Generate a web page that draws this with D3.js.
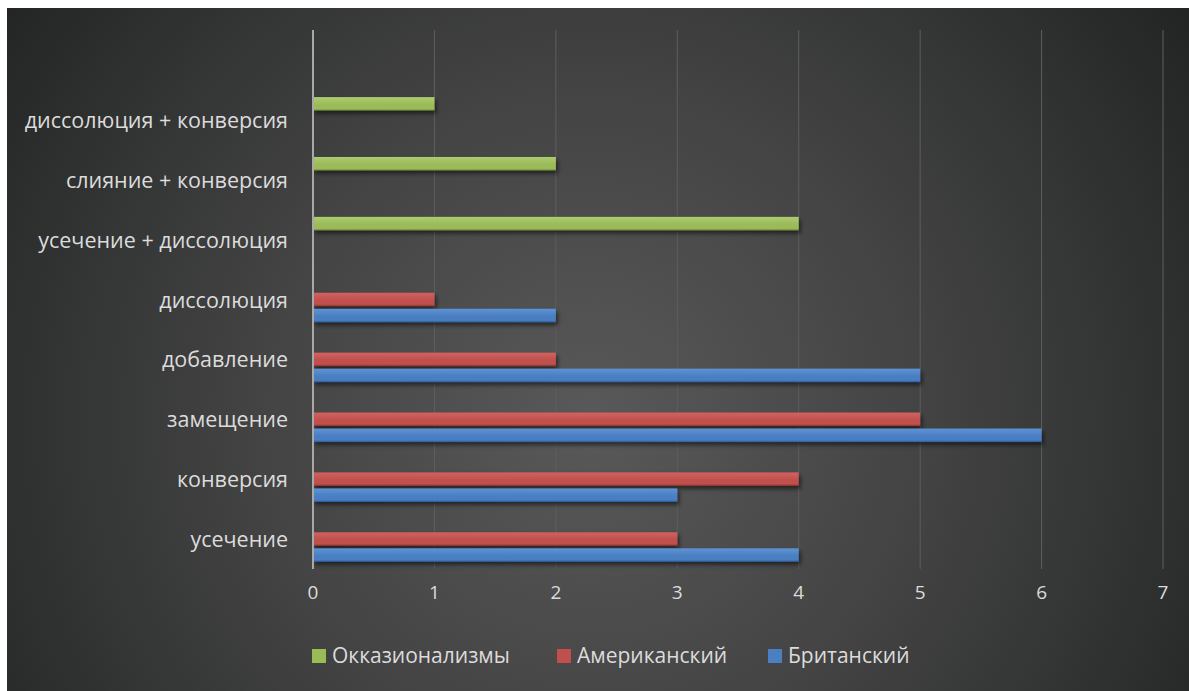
<!DOCTYPE html>
<html><head><meta charset="utf-8">
<script src="https://cdn.jsdelivr.net/npm/d3@7"></script>
<style>html,body{margin:0;padding:0;background:#fff;}svg{display:block;}</style>
</head><body>
<svg id="c" width="1189" height="691"></svg>
<script>
const categories = ["усечение","конверсия","замещение","добавление","диссолюция","усечение + диссолюция","слияние + конверсия","диссолюция + конверсия",""];
const seriesNames = ["Окказионализмы","Американский","Британский"];
const british = [4,3,6,5,2,0,0,0,0];
const american = [3,4,5,2,1,0,0,0,0];
const occasional = [0,0,0,0,0,4,2,1,0];
const xTicks = [0,1,2,3,4,5,6,7];
const colors = {"Окказионализмы":["#adcc70","#9bbb59","#6e8a38"],"Американский":["#d2625f","#c0504d","#8c322f"],"Британский":["#5e93d4","#4a7fc2","#2d5d9a"]};
const values = {"Окказионализмы":occasional,"Американский":american,"Британский":british};

const svg = d3.select("#c");
const defs = svg.append("defs");
const rg = defs.append("radialGradient").attr("id","bg").attr("gradientUnits","userSpaceOnUse")
  .attr("cx",590).attr("cy",420).attr("r",720);
rg.append("stop").attr("offset","0%").attr("stop-color","#595959");
rg.append("stop").attr("offset","45%").attr("stop-color","#444");
rg.append("stop").attr("offset","100%").attr("stop-color","#232525");
const f = defs.append("filter").attr("id","sh").attr("x","-5%").attr("y","-50%").attr("width","110%").attr("height","220%");
f.append("feDropShadow").attr("dx",2).attr("dy",3).attr("stdDeviation",2).attr("flood-color","#000").attr("flood-opacity",0.55);
seriesNames.forEach((s,i)=>{
  const lg = defs.append("linearGradient").attr("id","g"+i).attr("x1",0).attr("y1",0).attr("x2",0).attr("y2",1);
  lg.append("stop").attr("offset","0%").attr("stop-color",colors[s][0]);
  lg.append("stop").attr("offset","55%").attr("stop-color",colors[s][1]);
  lg.append("stop").attr("offset","85%").attr("stop-color",colors[s][1]);
  lg.append("stop").attr("offset","100%").attr("stop-color",colors[s][2]);
});

svg.append("rect").attr("x",7).attr("y",8).attr("width",1182).attr("height",683).attr("fill","url(#bg)");

const x = d3.scaleLinear().domain([0,7]).range([313,1163]);
const y = d3.scaleBand().domain(categories.slice().reverse()).range([30,569]).paddingInner(0).paddingOuter(0);
const ys = d3.scaleBand().domain(seriesNames).range([0,y.bandwidth()]).paddingInner(0).paddingOuter(0.372);
const barH = ys.step()-2.5;

// gridlines
svg.append("g").selectAll("line").data(xTicks.filter(d=>d>0)).join("line")
  .attr("x1",d=>x(d)).attr("x2",d=>x(d)).attr("y1",30).attr("y2",569)
  .attr("stroke","#5e5e5e").attr("stroke-width",1);

// bars
seriesNames.forEach((s,i)=>{
  svg.append("g").selectAll("rect").data(categories.map((c,j)=>({c,v:values[s][j]})).filter(d=>d.v>0)).join("rect")
    .attr("x",x(0)).attr("y",d=>y(d.c)+ys(s)+1.25).attr("width",d=>x(d.v)-x(0)).attr("height",barH)
    .attr("fill","url(#g"+i+")").attr("filter","url(#sh)");
});

// axis line
svg.append("line").attr("x1",x(0)).attr("x2",x(0)).attr("y1",30).attr("y2",569).attr("stroke","#a8a8a8").attr("stroke-width",2);

const font = "'Open Sans', 'Noto Sans', sans-serif";
// category labels
svg.append("g").selectAll("text").data(categories.filter(c=>c)).join("text")
  .attr("x",288).attr("y",d=>y(d)+y.bandwidth()/2+8).attr("text-anchor","end")
  .attr("fill","#dcdcdc").attr("font-family",font).attr("font-size",21.5).text(d=>d);

// x tick labels
svg.append("g").selectAll("text").data(xTicks).join("text")
  .attr("x",d=>x(d)).attr("y",599).attr("text-anchor","middle")
  .attr("fill","#dcdcdc").attr("font-family",font).attr("font-size",19).text(d=>d);

// legend
const legX = [312,557,768];
const lg = svg.append("g");
seriesNames.forEach((s,i)=>{
  lg.append("rect").attr("x",legX[i]).attr("y",649).attr("width",14).attr("height",14).attr("fill",colors[s][1]);
  lg.append("text").attr("x",legX[i]+20).attr("y",663).attr("fill","#dcdcdc").attr("font-family",font).attr("font-size",21).text(s);
});
</script>
</body></html>
